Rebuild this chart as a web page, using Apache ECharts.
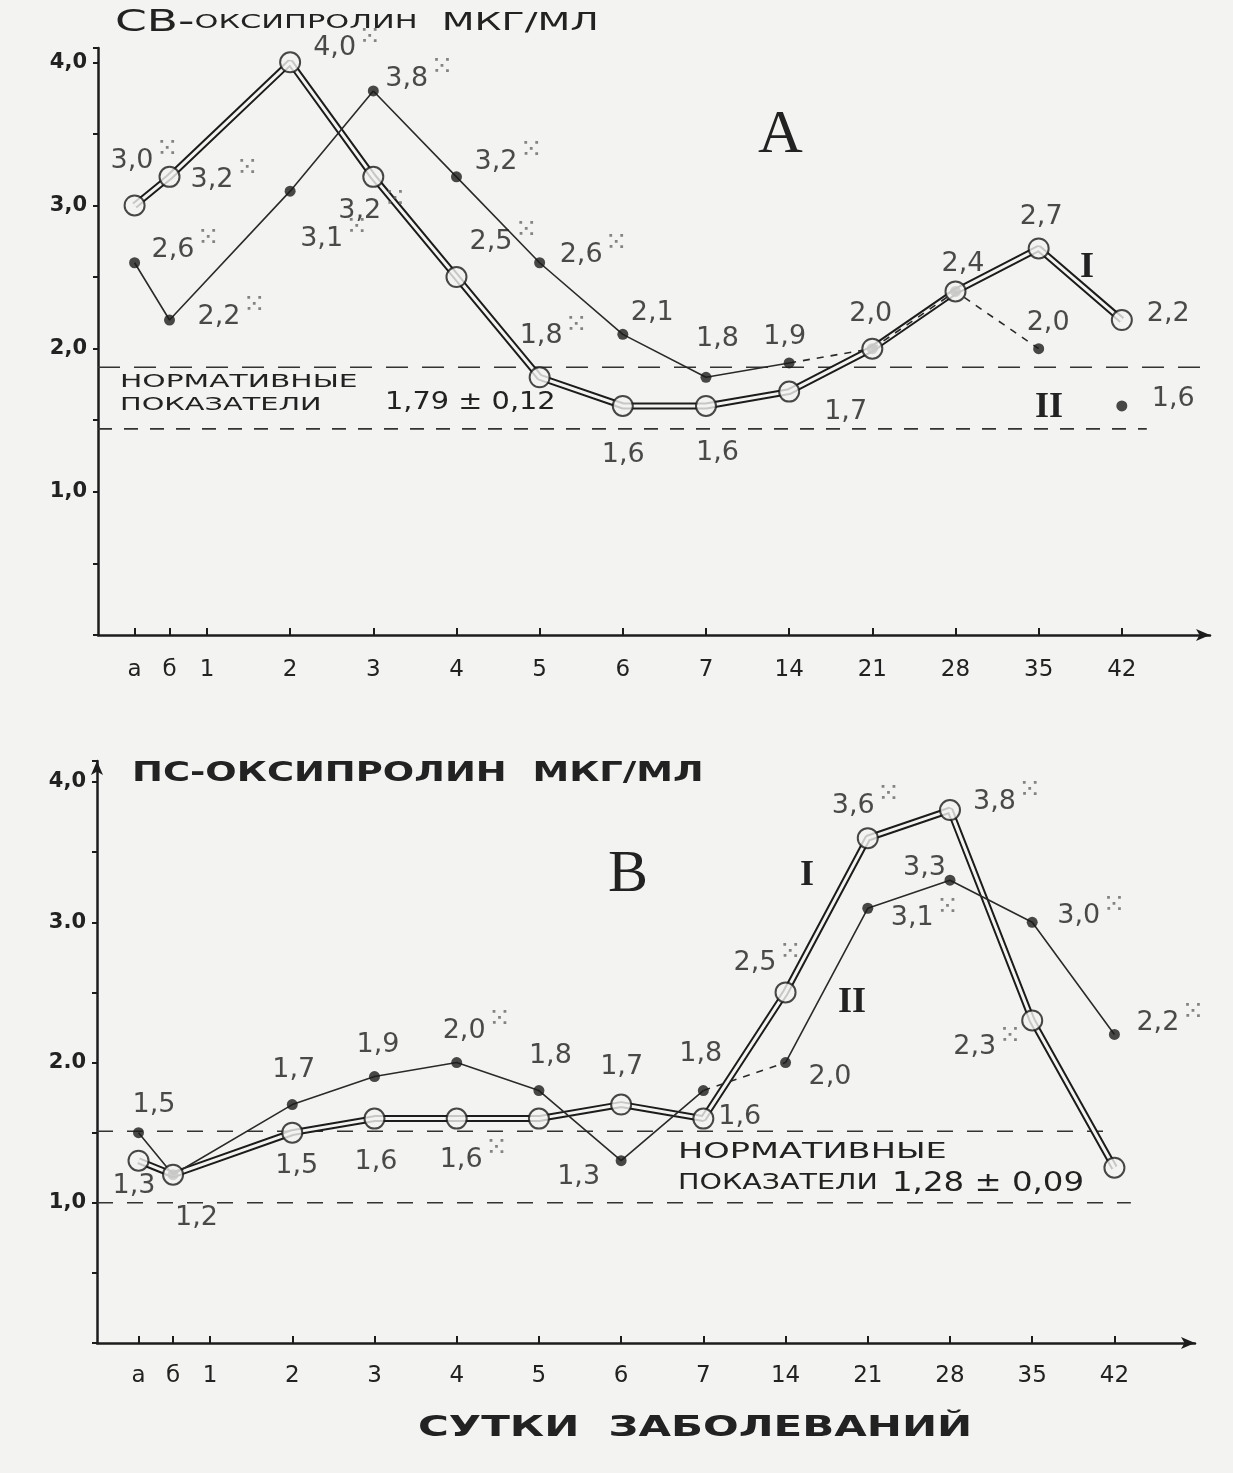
<!DOCTYPE html>
<html>
<head>
<meta charset="utf-8">
<title>СВ- и ПС-оксипролин</title>
<script src="https://cdn.jsdelivr.net/npm/echarts@6/dist/echarts.min.js"></script>
<style>
  html, body { margin: 0; padding: 0; background: #f3f3f1; }
  #chart { width: 1233px; height: 1473px; }
</style>
</head>
<body>
<div id="chart"></div>
<script>
// сутки заболевания и их место на оси (в шагах, «1» = 0)
const dayLabels = ['а', 'б', '1', '2', '3', '4', '5', '6', '7', '14', '21', '28', '35', '42']
const daySlots = [-0.87, -0.45, 0, 1, 2, 3, 4, 5, 6, 7, 8, 9, 10, 11]

// A: СВ-оксипролин, мкг/мл (I — кружки, II — точки), null — нет замера
const svI = [3.0, 3.2, null, 4.0, 3.2, 2.5, 1.8, 1.6, 1.6, 1.7, 2.0, 2.4, 2.7, 2.2]
const svII = [2.6, 2.2, null, 3.1, 3.8, 3.2, 2.6, 2.1, 1.8, 1.9, 2.0, 2.4, 2.0, 1.6]
const svIStar = [1, 1, 0, 1, 1, 1, 1, 0, 0, 0, 0, 0, 0, 0]
const svIIStar = [1, 1, 0, 1, 1, 1, 1, 0, 0, 0, 0, 0, 0, 0]
const svNorm = [1.44, 1.87]
const yTicksA = ['1,0', '2,0', '3,0', '4,0']

// B: ПС-оксипролин, мкг/мл
const psI = [1.3, 1.2, null, 1.5, 1.6, 1.6, 1.6, 1.7, 1.6, 2.5, 3.6, 3.8, 2.3, 1.25]
const psII = [1.5, 1.2, null, 1.7, 1.9, 2.0, 1.8, 1.3, 1.8, 2.0, 3.1, 3.3, 3.0, 2.2]
const psIStar = [0, 0, 0, 0, 0, 1, 0, 0, 0, 1, 1, 1, 1, 0]
const psIIStar = [0, 0, 0, 0, 0, 1, 0, 0, 0, 0, 1, 0, 1, 1]
const psNorm = [1.0, 1.51]
const yTicksB = ['1,0', '2.0', '3.0', '4,0']

const BG = '#f3f3f1'
const INK = '#1c1c1c'
const FONT = 'DejaVu Sans'

// где стоят подписи у точек (сдвиг от центра точки), null — без подписи
const offSvI = [[-24, -45], [21, 3], null, [23, -14], [-35, 34], [13, -35], [-20, -41], [-21, 49], [-10, 47], [35, 20], [-23, -35], [-14, -27], [-19, -31], [25, -6]]
const offSvII = [[17, -13], [28, -3], null, [10, 48], [12, -12], [18, -15], [20, -8], [8, -21], [-10, -38], [-26, -26], null, null, [-12, -26], [30, -7]]
const offPsI = [[-26, 25], [2, 43], null, [-17, 33], [-20, 43], [-17, 41], null, [-21, -38], [15, -2], [-52, -29], [-36, -32], [23, -8], [-79, 27], null]
const offPsII = [[-6, -28], null, null, [-20, -35], [-18, -32], [-14, -32], [-10, -35], [-64, 16], [-24, -37], [23, 14], [23, 10], [-47, -12], [25, -6], [22, -11]]

function fmt (v) {
  return v.toFixed(1).replace('.', ',')
}

function pts (vals, from, to) {
  const out = []
  for (let i = from; i <= to; i++) {
    if (vals[i] != null) out.push([daySlots[i], vals[i]])
  }
  return out
}

function doubleLine (g, data) {
  return [
    { type: 'line', xAxisIndex: g, yAxisIndex: g, data, symbol: 'none', silent: true, z: 3, lineStyle: { color: INK, width: 7 } },
    { type: 'line', xAxisIndex: g, yAxisIndex: g, data, symbol: 'none', silent: true, z: 4, lineStyle: { color: BG, width: 3 } }
  ]
}

function thinLine (g, data, type) {
  return { type: 'line', xAxisIndex: g, yAxisIndex: g, data, symbol: 'none', silent: true, z: 5, lineStyle: { color: '#2a2a2a', width: 1.6, type } }
}

function normLine (g, y, x0, x1, dash) {
  return { type: 'line', xAxisIndex: g, yAxisIndex: g, data: [[x0, y], [x1, y]], symbol: 'none', silent: true, z: 2, lineStyle: { color: '#333', width: 1.6, type: dash } }
}

function marks (g, vals, stars, offs, open) {
  const data = []
  vals.forEach((v, i) => {
    if (v == null) return
    const o = offs[i]
    data.push({
      value: [daySlots[i], v],
      name: o ? '{v|' + fmt(v) + '}' + (stars[i] ? '{s|⁙}' : '') : '',
      label: o ? { show: true, offset: o } : { show: false }
    })
  })
  return {
    type: 'scatter',
    xAxisIndex: g,
    yAxisIndex: g,
    data,
    symbol: 'circle',
    symbolSize: open ? 20 : 11,
    z: open ? 7 : 6,
    itemStyle: open ? { color: BG, borderColor: INK, borderWidth: 2 } : { color: INK },
    label: {
      position: 'inside',
      align: 'left',
      verticalAlign: 'middle',
      formatter: '{b}',
      color: '#222',
      textBorderWidth: 0,
      rich: {
        v: { fontFamily: FONT, fontSize: 27, color: '#1e1e1e', textBorderWidth: 0 },
        s: { fontFamily: FONT, fontSize: 28, color: '#666', textBorderWidth: 0, padding: [0, 0, 22, 2] }
      }
    }
  }
}

function xAxis (g, min, max, margin) {
  return {
    type: 'value',
    gridIndex: g,
    min,
    max,
    splitLine: { show: false },
    axisLine: { onZero: false, lineStyle: { color: INK, width: 2.5 }, symbol: ['none', 'arrow'], symbolSize: [9, 14] },
    axisTick: { customValues: daySlots, inside: true, length: 7, lineStyle: { color: INK, width: 2 } },
    axisLabel: {
      customValues: daySlots,
      margin,
      fontFamily: FONT,
      fontSize: 23,
      color: '#222',
      formatter: v => dayLabels[daySlots.findIndex(s => Math.abs(s - v) < 1e-6)] || ''
    }
  }
}

function yAxis (g, max, ticks, arrow) {
  return {
    type: 'value',
    gridIndex: g,
    min: 0,
    max,
    interval: 0.5,
    splitLine: { show: false },
    axisLine: { show: true, onZero: false, lineStyle: { color: INK, width: 2.5 }, symbol: ['none', arrow ? 'arrow' : 'none'], symbolSize: [9, 14] },
    axisTick: { show: true, length: 5, lineStyle: { color: INK, width: 2 } },
    axisLabel: {
      margin: 11,
      fontFamily: FONT,
      fontSize: 21,
      fontWeight: 'bold',
      color: '#222',
      formatter: v => (v > 0 && Number.isInteger(v)) ? ticks[v - 1] : ''
    }
  }
}

function text (left, top, str, size, sx, extra) {
  return {
    type: 'text',
    x: left,
    y: top,
    scaleX: sx,
    z: 10,
    style: Object.assign({ text: str, fontFamily: FONT, fontSize: size, fill: '#222' }, extra || {})
  }
}

const chart = echarts.init(document.getElementById('chart'), null, { renderer: 'canvas' })

chart.setOption({
  backgroundColor: BG,
  animation: false,
  grid: [
    { left: 98, right: 23, top: 48, height: 587 },
    { left: 97, right: 38, top: 761, height: 582 }
  ],
  xAxis: [xAxis(0, -1.31, 12.06, 24), xAxis(1, -1.375, 11.98, 22)],
  yAxis: [yAxis(0, 4.1, yTicksA, false), yAxis(1, 4.15, yTicksB, true)],
  series: [
    // A
    normLine(0, svNorm[1], -1.31, 12.06, [22, 14]),
    normLine(0, svNorm[0], -1.31, 11.3, [14, 12]),
    ...doubleLine(0, pts(svI, 0, 13)),
    thinLine(0, pts(svII, 0, 9), 'solid'),
    thinLine(0, pts(svII, 9, 12), [7, 7]),
    marks(0, svII, svIIStar, offSvII, false),
    marks(0, svI, svIStar, offSvI, true),
    // B
    normLine(1, psNorm[1], -1.375, 11.0, [16, 14]),
    normLine(1, psNorm[0], -1.375, 11.2, [16, 14]),
    ...doubleLine(1, pts(psI, 0, 13)),
    thinLine(1, pts(psII, 0, 8), 'solid'),
    thinLine(1, pts(psII, 8, 9), [7, 7]),
    thinLine(1, pts(psII, 9, 13), 'solid'),
    marks(1, psII, psIIStar, offPsII, false),
    marks(1, psI, psIStar, offPsI, true)
  ],
  graphic: [
    text(115, 8, '{a|СВ-}{b|ОКСИПРОЛИН}{c|  МКГ/МЛ}', 22, 1.52, {
      rich: {
        a: { fontFamily: FONT, fontSize: 30, fill: '#222' },
        b: { fontFamily: FONT, fontSize: 20, fill: '#222' },
        c: { fontFamily: FONT, fontSize: 25, fill: '#222' }
      }
    }),
    text(132, 761, 'ПС-ОКСИПРОЛИН  МКГ/МЛ', 26, 1.42, { fontWeight: 'bold' }),
    text(758, 105, 'A', 62, 1, { fontFamily: 'Liberation Serif' }),
    text(608, 845, 'B', 60, 1, { fontFamily: 'Liberation Serif' }),
    text(1080, 250, 'I', 36, 1, { fontFamily: 'Liberation Serif', fontWeight: 'bold' }),
    text(1035, 390, 'II', 36, 1, { fontFamily: 'Liberation Serif', fontWeight: 'bold' }),
    text(800, 858, 'I', 36, 1, { fontFamily: 'Liberation Serif', fontWeight: 'bold' }),
    text(838, 985, 'II', 36, 1, { fontFamily: 'Liberation Serif', fontWeight: 'bold' }),
    text(120, 373, 'НОРМАТИВНЫЕ', 18, 1.65),
    text(120, 396, 'ПОКАЗАТЕЛИ', 18, 1.6),
    text(385, 391, '1,79 ± 0,12', 24, 1.2),
    text(678, 1142, 'НОРМАТИВНЫЕ', 21, 1.6),
    text(678, 1173, 'ПОКАЗАТЕЛИ', 21, 1.36),
    text(892, 1170, '1,28 ± 0,09', 27, 1.2),
    text(418, 1415, 'СУТКИ  ЗАБОЛЕВАНИЙ', 28, 1.5, { fontWeight: 'bold' })
  ]
})
</script>
</body>
</html>
